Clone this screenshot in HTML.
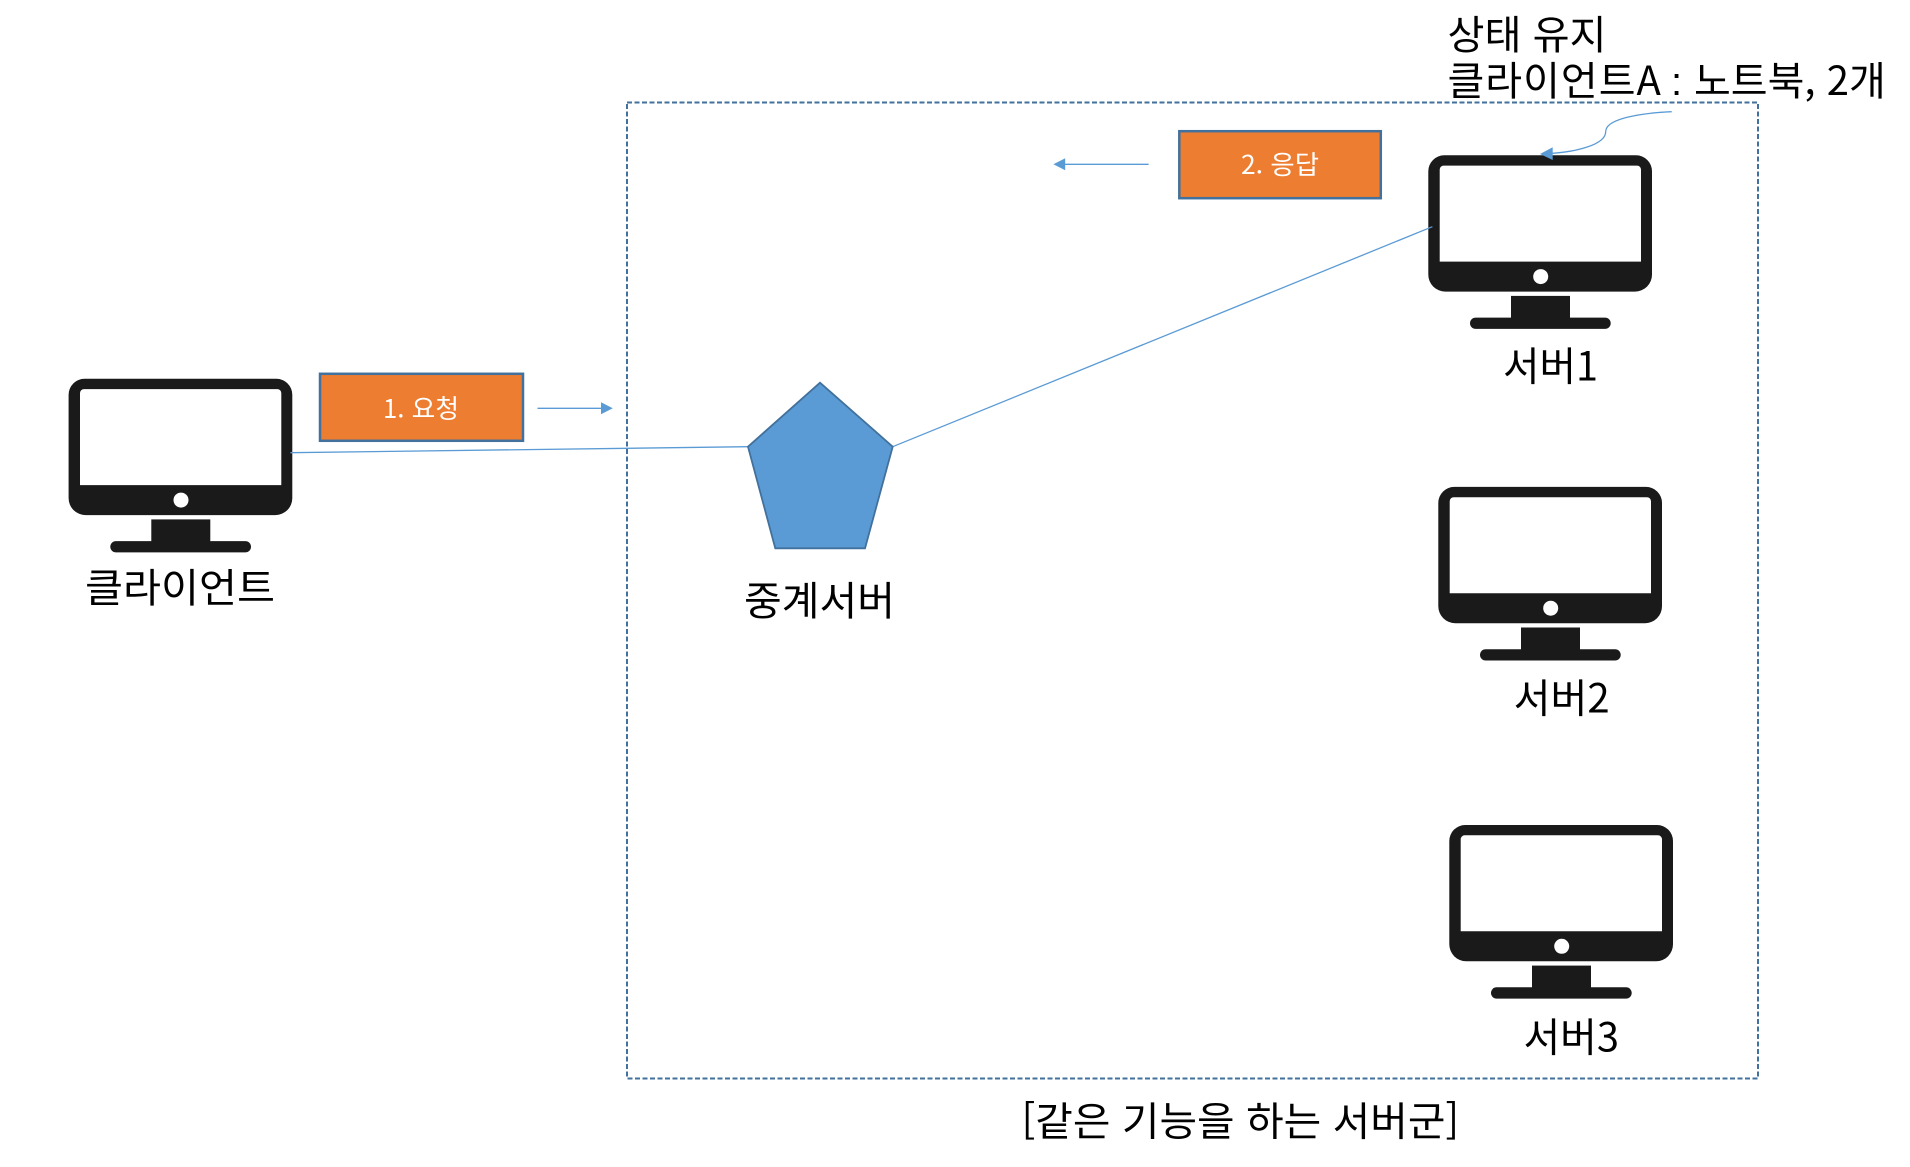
<!DOCTYPE html>
<html lang="ko">
<head>
<meta charset="utf-8">
<title>서버군 다이어그램</title>
<style>
html,body{margin:0;padding:0;background:#fff;}
svg{display:block;}
text{font-family:"Noto Sans CJK KR","NanumGothic","Liberation Sans",sans-serif;fill:#000;font-size:40px;font-weight:400;}
.w{fill:#fff;font-size:26px;}
</style>
</head>
<body>
<svg width="1910" height="1167" viewBox="0 0 1910 1167" xmlns="http://www.w3.org/2000/svg">
<defs>
<g id="m">
<path fill="#1a1a1a" fill-rule="evenodd" d="M16 0H207.700A16 16 0 0 1 223.700 16V119.300A17 17 0 0 1 206.700 136.300H17A17 17 0 0 1 0 119.300V16A16 16 0 0 1 16 0ZM15.400 10.300A4 4 0 0 0 11.400 14.300V106.300H212.700V14.300A4 4 0 0 0 208.700 10.300Z"/>
<circle cx="112.400" cy="121.300" r="7.500" fill="#fff"/>
<rect x="82.700" y="140.600" width="59" height="23" fill="#1a1a1a"/>
<rect x="41.700" y="162.300" width="140.700" height="11.300" rx="5.650" fill="#1a1a1a"/>
</g>
</defs>
<rect width="1910" height="1167" fill="#fff"/>
<rect x="627" y="102.500" width="1131" height="976" fill="none" stroke="#41719c" stroke-width="2" stroke-dasharray="5 2.500"/>
<use href="#m" x="68.600" y="378.800"/>
<use href="#m" x="1428.300" y="155.300"/>
<use href="#m" x="1438.300" y="486.900"/>
<use href="#m" x="1449.300" y="825"/>
<line x1="290.400" y1="452.700" x2="748" y2="446.700" stroke="#5b9bd5" stroke-width="1.300"/>
<line x1="892.700" y1="446.700" x2="1432.400" y2="226.700" stroke="#5b9bd5" stroke-width="1.300"/>
<polygon points="820,382.700 892.700,446.700 865,548.300 775.300,548.300 748,446.700" fill="#5b9bd5" stroke="#41719c" stroke-width="1.800"/>
<rect x="320" y="373.800" width="203" height="67" fill="#ed7d31" stroke="#41719c" stroke-width="2.500"/>
<rect x="1179.300" y="131.200" width="201.500" height="67" fill="#ed7d31" stroke="#41719c" stroke-width="2.500"/>
<line x1="537.500" y1="408.300" x2="602" y2="408.300" stroke="#5b9bd5" stroke-width="1.300"/>
<polygon points="612.800,408.300 601,402.300 601,414.300" fill="#5b9bd5"/>
<line x1="1148.600" y1="164.300" x2="1064" y2="164.300" stroke="#5b9bd5" stroke-width="1.300"/>
<polygon points="1053.400,164.300 1065.200,158.300 1065.200,170.300" fill="#5b9bd5"/>
<path d="M1671.700 111.700C1640 113 1605.500 119 1605.700 131.700C1605.500 145 1575 152 1550 153.500" fill="none" stroke="#5b9bd5" stroke-width="1.300"/>
<polygon points="1540,154 1552.700,147.300 1552.700,160" fill="#5b9bd5"/>
<text x="85" y="602" textLength="190" lengthAdjust="spacingAndGlyphs">클라이언트</text>
<text x="744" y="615" textLength="151" lengthAdjust="spacingAndGlyphs">중계서버</text>
<text x="1503" y="380.500" textLength="95" lengthAdjust="spacingAndGlyphs">서버1</text>
<text x="1513.700" y="712.500" textLength="96" lengthAdjust="spacingAndGlyphs">서버2</text>
<text x="1523.500" y="1051.500" textLength="95.500" lengthAdjust="spacingAndGlyphs">서버3</text>
<text x="1447.500" y="49" textLength="159" lengthAdjust="spacingAndGlyphs">상태 유지</text>
<text y="95"><tspan x="1447.500" letter-spacing="1">클라이언트A</tspan> <tspan x="1671" font-family="Liberation Sans">:</tspan> <tspan x="1694">노트북, 2개</tspan></text>
<text x="1021.500" y="1135.500" textLength="437.700" lengthAdjust="spacingAndGlyphs">[같은 기능을 하는 서버군]</text>
<text class="w" x="383" y="418" textLength="76" lengthAdjust="spacingAndGlyphs">1. 요청</text>
<text class="w" x="1241" y="174" textLength="78" lengthAdjust="spacingAndGlyphs">2. 응답</text>
</svg>
</body>
</html>
